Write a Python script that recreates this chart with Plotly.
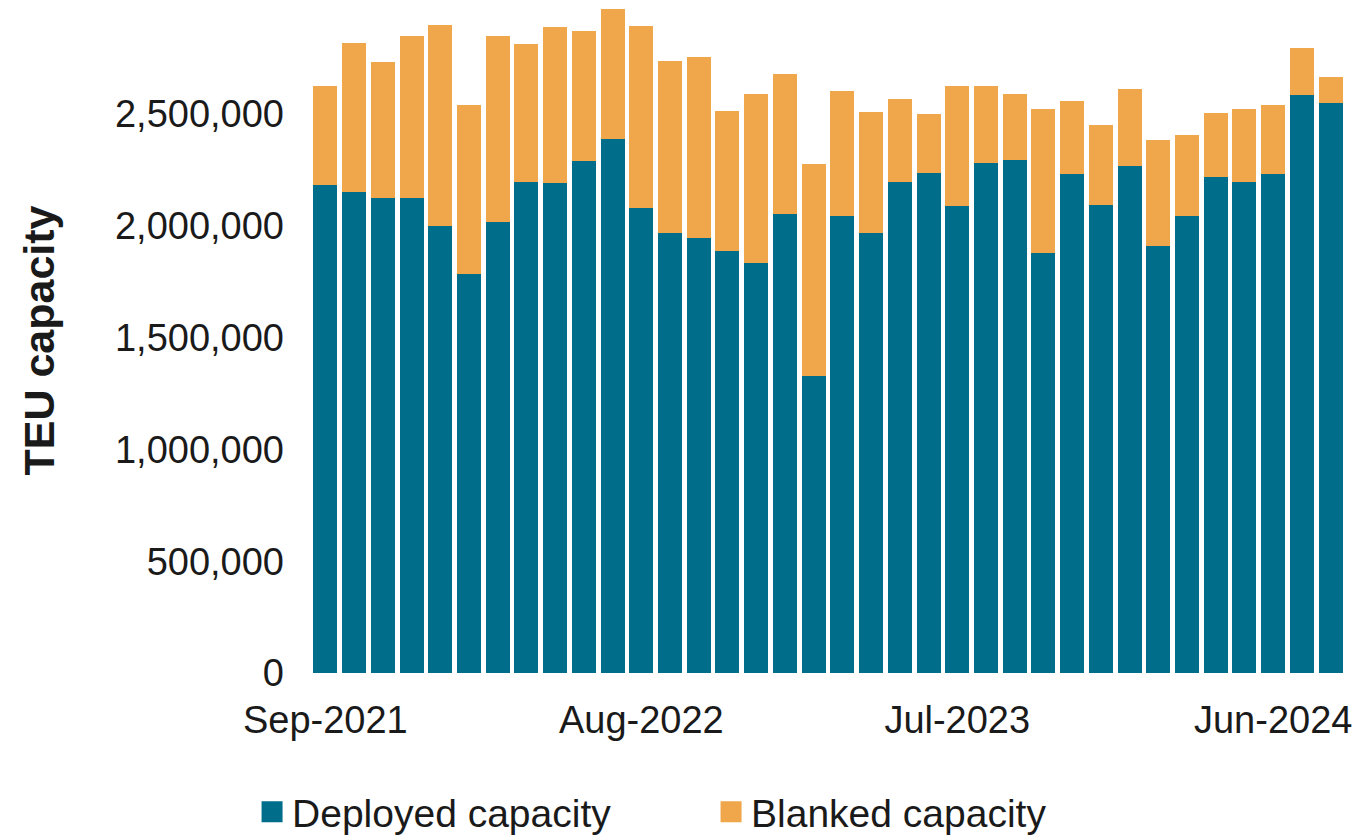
import plotly.graph_objects as go

months = ["Sep-2021", "Oct-2021", "Nov-2021", "Dec-2021",
          "Jan-2022", "Feb-2022", "Mar-2022", "Apr-2022", "May-2022", "Jun-2022",
          "Jul-2022", "Aug-2022", "Sep-2022", "Oct-2022", "Nov-2022", "Dec-2022",
          "Jan-2023", "Feb-2023", "Mar-2023", "Apr-2023", "May-2023", "Jun-2023",
          "Jul-2023", "Aug-2023", "Sep-2023", "Oct-2023", "Nov-2023", "Dec-2023",
          "Jan-2024", "Feb-2024", "Mar-2024", "Apr-2024", "May-2024", "Jun-2024",
          "Jul-2024", "Aug-2024"]

deployed = [2182000, 2152000, 2126000, 2124000, 2000000, 1784000, 2019000, 2198000,
            2192000, 2290000, 2387000, 2079000, 1968000, 1948000, 1888000, 1836000,
            2055000, 1327000, 2043000, 1967000, 2196000, 2235000, 2088000, 2280000,
            2293000, 1881000, 2234000, 2092000, 2268000, 1909000, 2045000, 2219000,
            2198000, 2234000, 2585000, 2548000]

blanked = [443000, 666000, 606000, 724000, 897000, 755000, 832000, 618000,
           699000, 584000, 585000, 817000, 771000, 806000, 628000, 756000,
           624000, 948000, 560000, 543000, 371000, 266000, 538000, 346000,
           298000, 644000, 327000, 358000, 345000, 474000, 364000, 287000,
           327000, 309000, 210000, 120000]

x_tick_labels = ["Sep-2021", "Aug-2022", "Jul-2023", "Jun-2024"]
y_ticks = [0, 500000, 1000000, 1500000, 2000000, 2500000]

series_names = ["Deployed capacity", "Blanked capacity"]
TEAL = "#006e8a"
ORANGE = "#f0a64b"
FONT = "Liberation Sans, Arial, Helvetica, sans-serif"

fig = go.Figure()
fig.add_trace(go.Bar(x=months, y=deployed, name=series_names[0],
                     marker=dict(color=TEAL, line=dict(width=0)), showlegend=False))
fig.add_trace(go.Bar(x=months, y=blanked, name=series_names[1],
                     marker=dict(color=ORANGE, line=dict(width=0)), showlegend=False))

# legend proxies (larger square swatches)
for nm, col in zip(series_names, [TEAL, ORANGE]):
    fig.add_trace(go.Scatter(x=[None], y=[None], mode="markers", name=nm,
                             marker=dict(symbol="square", size=16, color=col,
                                         line=dict(color=col, width=5))))

fig.update_layout(
    width=1353, height=828,
    barmode="stack", bargap=0.165,
    paper_bgcolor="white", plot_bgcolor="white",
    margin=dict(l=303, r=16, t=0, b=163, autoexpand=False),
    font=dict(family=FONT, size=38, color="#1a1a1a"),
    showlegend=True,
    legend=dict(orientation="h", x=-0.057, xanchor="left", y=-0.209, yanchor="middle",
                font=dict(size=39, color="#1a1a1a"), entrywidth=414,
                traceorder="normal",
                itemsizing="trace", bgcolor="rgba(0,0,0,0)"),
    xaxis=dict(type="category", categoryorder="array", categoryarray=months,
               tickmode="array", tickvals=x_tick_labels, ticktext=x_tick_labels,
               ticks="outside", ticklen=13, tickcolor="rgba(0,0,0,0)",
               showgrid=False, showline=False, zeroline=False,
               tickfont=dict(size=38), automargin=False),
    yaxis=dict(range=[0, 2975000], tickmode="array", tickvals=y_ticks,
               tickformat=",d", showgrid=False, showline=False, zeroline=False,
               ticks="", ticklabelstandoff=26, tickfont=dict(size=38),
               title=dict(text="<b>TEU capacity</b>", font=dict(size=43, color="#1a1a1a"),
                          standoff=46),
               automargin=False),
)

fig.write_html("out.html")
